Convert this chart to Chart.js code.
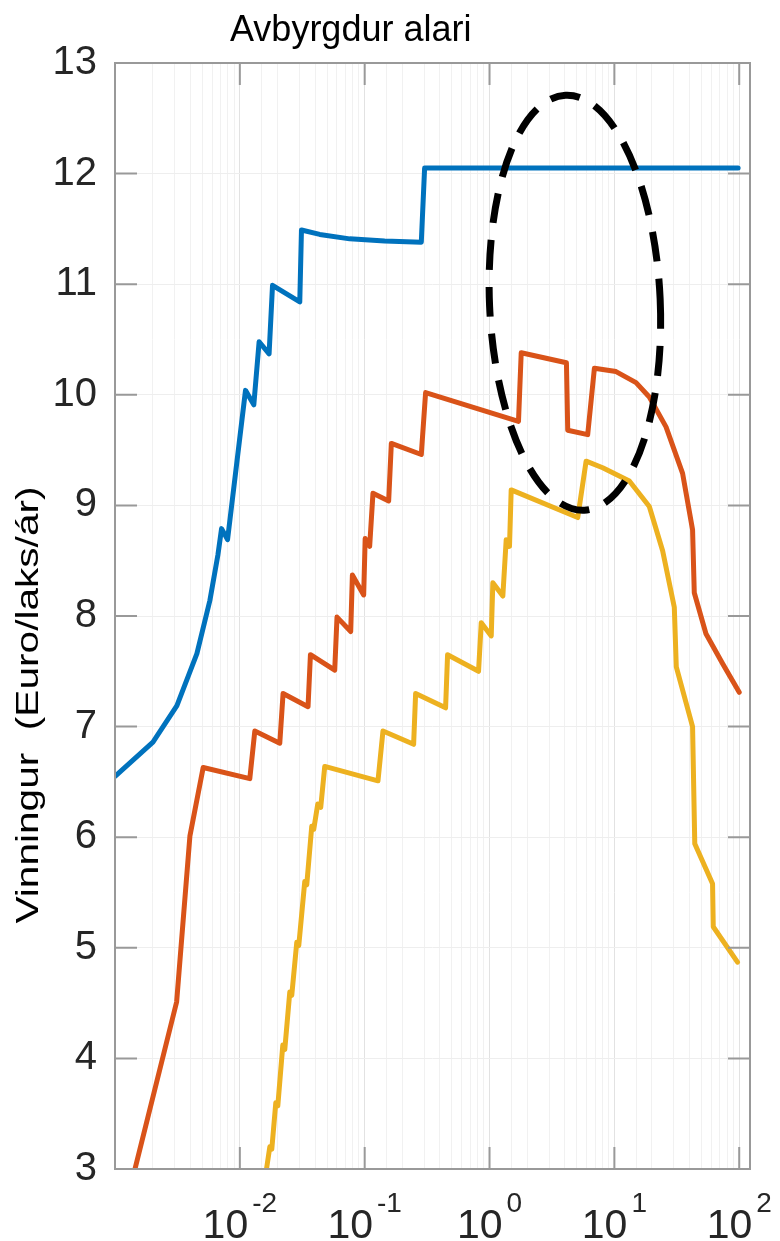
<!DOCTYPE html>
<html>
<head>
<meta charset="utf-8">
<script src="https://cdn.jsdelivr.net/npm/chart.js@4.4.1/dist/chart.umd.min.js"></script>
<style>
html, body { margin: 0; padding: 0; background: #fff; }
</style>
</head>
<body>
<canvas id="mychart" width="780" height="1241"></canvas>
<script>
// values (x on log axis)
const blueX = [0.001, 0.002014, 0.003133, 0.004529, 0.005754, 0.006668, 0.007139, 0.00797, 0.0111, 0.01294, 0.01427, 0.01715, 0.01827, 0.0302, 0.03116, 0.04365, 0.07586, 0.1445, 0.2841, 0.302, 98];
const blueY = [6.55, 6.86, 7.19, 7.66, 8.14, 8.55, 8.79, 8.69, 10.04, 9.91, 10.48, 10.37, 10.99, 10.84, 11.49, 11.45, 11.41, 11.39, 11.38, 12.05, 12.05];

const orangeX = [0.001445, 0.003116, 0.003981, 0.005086, 0.01202, 0.01318, 0.02089, 0.0222, 0.03518, 0.03677, 0.05754, 0.06002, 0.07727, 0.0797, 0.09817, 0.1009, 0.1096, 0.1165, 0.1556, 0.1635, 0.2841, 0.3076, 1.706, 1.794, 4.13, 4.23, 6.115, 6.918, 10.31, 14.91, 19.05, 25.92, 35.19, 42.3, 43.65, 54.15, 73.52, 100];
const orangeY = [3.0, 4.51, 6.01, 6.63, 6.53, 6.96, 6.85, 7.30, 7.18, 7.65, 7.51, 7.99, 7.86, 8.37, 8.19, 8.70, 8.63, 9.11, 9.04, 9.56, 9.46, 10.02, 9.76, 10.38, 10.29, 9.68, 9.64, 10.24, 10.21, 10.11, 9.98, 9.71, 9.29, 8.78, 8.21, 7.84, 7.57, 7.31];

const yellowX = [0.01635, 0.01738, 0.01803, 0.01941, 0.02014, 0.02208, 0.02291, 0.02512, 0.02606, 0.02858, 0.02965, 0.03311, 0.03436, 0.03767, 0.03908, 0.04207, 0.04446, 0.04786, 0.1278, 0.1401, 0.2466, 0.2559, 0.4446, 0.4613, 0.8166, 0.8584, 1.032, 1.063, 1.278, 1.36, 1.445, 1.491, 5.087, 5.938, 8.062, 13.18, 19.05, 24.35, 30.2, 31.33, 42.3, 44.06, 61.16, 61.94, 96.9];
const yellowY = [3.0, 3.2, 3.18, 3.6, 3.57, 4.12, 4.08, 4.6, 4.57, 5.05, 5.02, 5.6, 5.57, 6.1, 6.07, 6.3, 6.27, 6.64, 6.51, 6.96, 6.84, 7.30, 7.17, 7.65, 7.50, 7.94, 7.82, 8.30, 8.18, 8.69, 8.63, 9.14, 8.89, 9.40, 9.34, 9.22, 8.99, 8.59, 8.08, 7.54, 7.0, 5.94, 5.58, 5.19, 4.87];

const yTicks = [3, 4, 5, 6, 7, 8, 9, 10, 11, 12, 13];
const xTickExps = [-2, -1, 0, 1, 2];

const titleText = 'Avbyrgdur alari';
const yLabelText = 'Vinningur  (Euro/laks/ár)';

// dashed ellipse annotation, extents in data units
const ellipseX = [1.0, 23.3];
const ellipseY = [8.955, 12.71];

function pts(xs, ys) {
    return xs.map((v, i) => ({x: v, y: ys[i]}));
}

const frame = {
    id: 'frame',
    afterDraw(chart) {
        const ctx = chart.ctx;
        const a = chart.chartArea;
        const x = chart.scales.x, y = chart.scales.y;
        ctx.save();

        // dashed ellipse
        const l = x.getPixelForValue(ellipseX[0]), r = x.getPixelForValue(ellipseX[1]);
        const t = y.getPixelForValue(ellipseY[1]), b = y.getPixelForValue(ellipseY[0]);
        ctx.strokeStyle = '#000';
        ctx.lineWidth = 7;
        ctx.setLineDash([30, 17]);
        ctx.beginPath();
        ctx.ellipse((l + r) / 2, (t + b) / 2, (r - l) / 2, (b - t) / 2, -0.045, 0, Math.PI * 2);
        ctx.stroke();
        ctx.setLineDash([]);

        // box + inward ticks
        ctx.strokeStyle = '#999';
        ctx.lineWidth = 2;
        ctx.strokeRect(a.left, a.top, a.right - a.left, a.bottom - a.top);
        ctx.beginPath();
        yTicks.forEach(v => {
            const py = y.getPixelForValue(v);
            ctx.moveTo(a.left, py); ctx.lineTo(a.left + 22, py);
            ctx.moveTo(a.right, py); ctx.lineTo(a.right - 22, py);
        });
        xTickExps.forEach(e => {
            const px = x.getPixelForValue(Math.pow(10, e));
            ctx.moveTo(px, a.bottom); ctx.lineTo(px, a.bottom - 22);
            ctx.moveTo(px, a.top); ctx.lineTo(px, a.top + 22);
        });
        ctx.stroke();

        // y tick labels
        ctx.fillStyle = '#262626';
        ctx.font = '40px "Liberation Sans"';
        ctx.textAlign = 'right';
        ctx.textBaseline = 'middle';
        yTicks.forEach(v => ctx.fillText(String(v), a.left - 18, y.getPixelForValue(v)));

        // x tick labels 10^n
        ctx.textAlign = 'left';
        ctx.textBaseline = 'alphabetic';
        xTickExps.forEach(e => {
            const px = x.getPixelForValue(Math.pow(10, e));
            ctx.font = '41px "Liberation Sans"';
            const wb = ctx.measureText('10').width;
            ctx.font = '28px "Liberation Sans"';
            const sup = String(e);
            const ws = ctx.measureText(sup).width;
            const start = px - (wb + 4 + ws) / 2;
            ctx.font = '41px "Liberation Sans"';
            ctx.fillText('10', start, 1238);
            ctx.font = '28px "Liberation Sans"';
            ctx.fillText(sup, start + wb + 4, 1212);
        });

        // title
        ctx.fillStyle = '#000';
        ctx.font = '36px "Liberation Sans"';
        ctx.textAlign = 'left';
        ctx.fillText(titleText, 230, 41);

        // y label, a bit stretched along its length like the picture
        ctx.font = '31px "Liberation Sans"';
        const w = ctx.measureText(yLabelText).width;
        ctx.translate(38, 705);
        ctx.rotate(-Math.PI / 2);
        ctx.scale(437 / w, 1);
        ctx.textAlign = 'center';
        ctx.fillText(yLabelText, 0, 0);
        ctx.restore();
    }
};

const a = document.getElementById('mychart').getContext('2d');
const mychart = new Chart(a, {
    type: 'line',
    data: {
        datasets: [
            {data: pts(blueX, blueY), borderColor: '#0072BD'},
            {data: pts(orangeX, orangeY), borderColor: '#D95319'},
            {data: pts(yellowX, yellowY), borderColor: '#EDB120'}
        ]
    },
    options: {
        responsive: false,
        animation: false,
        devicePixelRatio: 1,
        layout: {padding: {left: 115, right: 30, top: 63, bottom: 72}},
        elements: {
            line: {borderWidth: 5, tension: 0, borderJoinStyle: 'round', borderCapStyle: 'round', fill: false},
            point: {radius: 0}
        },
        plugins: {legend: {display: false}, tooltip: {enabled: false}, title: {display: false}},
        scales: {
            x: {
                type: 'logarithmic', min: 0.001, max: 122,
                ticks: {display: false, autoSkip: false},
                grid: {drawTicks: false, color: c => (c.tick && c.tick.major) ? '#e2e2e2' : '#f1f1f1'},
                border: {display: false}
            },
            y: {
                type: 'linear', min: 3, max: 13,
                ticks: {display: false, stepSize: 1},
                grid: {drawTicks: false, color: '#eeeeee'},
                border: {display: false}
            }
        }
    },
    plugins: [frame]
});
</script>
</body>
</html>
